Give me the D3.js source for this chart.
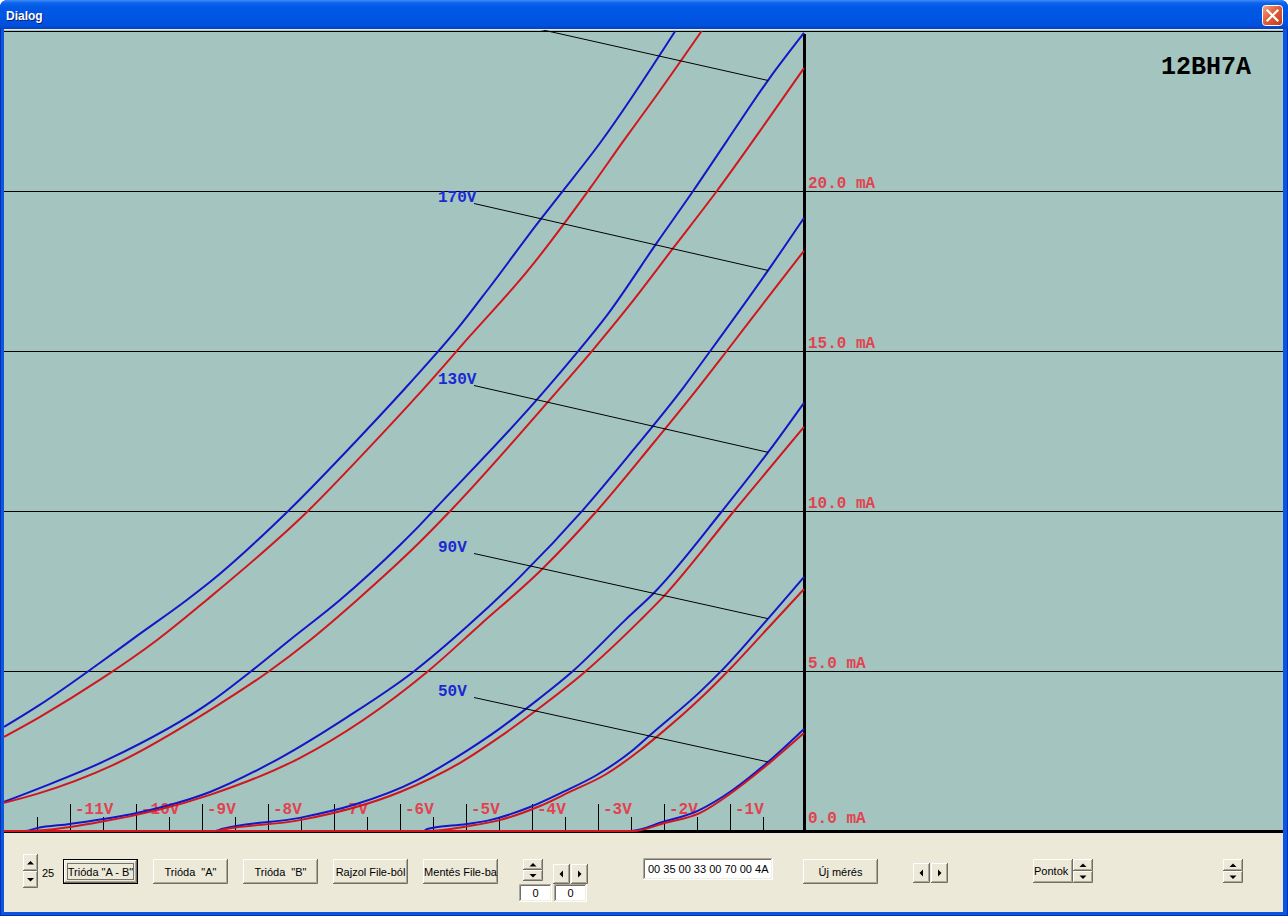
<!DOCTYPE html>
<html><head><meta charset="utf-8">
<script src="https://cdn.jsdelivr.net/npm/d3@7/dist/d3.min.js"></script>
<style>html,body{margin:0;padding:0;background:#ffffff;overflow:hidden}svg{display:block}text{white-space:pre}</style>
</head><body><svg id="c" width="1288" height="916"></svg>
<script>
// ---------------- data ----------------
const tubeName = "12BH7A";
const plateVoltages = ["50V", "90V", "130V", "170V", "210V", "250V"];
const gridTicksMajor = [-11, -10, -9, -8, -7, -6, -5, -4, -3, -2, -1];
const gridTicksMinor = [-11.5, -10.5, -9.5, -8.5, -7.5, -6.5, -5.5, -4.5, -3.5, -2.5, -1.5, -0.5];
const currentTicks = [0, 5, 10, 15, 20];
const currentGrid = [5, 10, 15, 20, 25];
// [grid voltage V, anode current mA]; "A" = blue trace, "B" = red trace
const triodeA_50V = [[-12.12,0],[-2.62,0],[-2.14,0.28],[-1.61,0.63],[-1.08,1.28],[-0.56,2.13],[0,3.19]];
const triodeB_50V = [[-12.12,0],[-2.59,0],[-2.11,0.25],[-1.58,0.56],[-1.08,1.22],[-0.56,2.06],[0,3.06]];
const triodeA_90V = [[-12.12,0],[-5.76,0],[-5.71,0.06],[-5.11,0.22],[-4.76,0.34],[-4.15,0.75],[-3.65,1.22],[-3.14,1.75],[-2.59,2.53],[-2.33,3.0],[-1.58,4.34],[-1.23,5.05],[-0.56,6.6],[0,7.94]];
const triodeB_90V = [[-12.12,0],[-5.70,0],[-5.06,0.16],[-4.61,0.34],[-4.00,0.78],[-3.55,1.22],[-3.02,1.75],[-2.48,2.53],[-2.21,2.98],[-1.50,4.28],[-1.15,5.0],[-0.52,6.4],[0,7.56]];
const triodeA_130V = [[-12.12,0],[-8.92,0],[-8.82,0.06],[-7.64,0.41],[-6.83,0.81],[-5.86,1.59],[-5.26,2.31],[-4.61,3.2],[-4.11,3.98],[-3.50,5.0],[-2.71,6.59],[-2.26,7.47],[-1.24,10.0],[-0.52,11.9],[0,13.38]];
const triodeB_130V = [[-12.12,0],[-8.92,0],[-8.76,0.06],[-7.64,0.34],[-6.12,1.22],[-5.21,2.13],[-4.61,2.94],[-4.05,3.78],[-3.32,4.97],[-2.48,6.59],[-2.14,7.3],[-1.06,10.0],[0,12.63]];
const triodeA_170V = [[-12.12,0],[-11.80,0],[-11.62,0.09],[-11.12,0.22],[-10.11,0.56],[-9.00,1.22],[-7.94,2.28],[-6.92,3.56],[-5.92,4.97],[-5.11,6.38],[-4.30,7.95],[-3.35,10.03],[-2.59,11.9],[-1.83,13.85],[-1.42,15.0],[-0.52,17.59],[0,19.16]];
const triodeB_170V = [[-12.12,0],[-11.80,0],[-10.67,0.28],[-9.00,1.13],[-7.64,2.28],[-5.71,4.97],[-4.91,6.44],[-3.95,8.22],[-3.14,10.0],[-2.33,12.0],[-1.58,13.91],[-1.17,15.0],[-0.47,16.88],[0,18.13]];
const triodeA_210V = [[-12.12,0.91],[-11.58,1.34],[-10.56,2.22],[-8.95,4.09],[-8.39,4.97],[-7.79,5.97],[-7.03,7.22],[-6.12,8.94],[-5.82,9.56],[-5.62,10.0],[-4.05,13.47],[-3.50,14.8],[-2.98,16.13],[-2.23,18.38],[-1.68,20.0],[-1.17,21.56],[-0.52,23.53],[0,24.94]];
const triodeB_210V = [[-12.12,0.88],[-11.62,1.16],[-10.47,2.06],[-8.92,3.88],[-8.12,4.97],[-7.48,5.97],[-6.77,7.22],[-5.82,9.03],[-5.36,10.0],[-3.82,13.55],[-3.20,15.03],[-2.64,16.44],[-1.98,18.22],[-1.32,20.0],[-0.56,22.19],[0,23.84]];
const triodeA_250V = [[-12.12,3.25],[-11.58,3.94],[-10.67,5.25],[-10.11,6.09],[-9.35,7.22],[-9.00,7.78],[-7.83,9.97],[-6.77,12.22],[-5.97,14.0],[-5.24,15.72],[-4.76,17.0],[-4.00,19.09],[-3.70,19.88],[-3.09,21.5],[-1.95,25.0]];
const triodeB_250V = [[-12.12,2.94],[-11.58,3.56],[-10.67,4.72],[-9.80,5.97],[-9.05,7.22],[-7.53,9.97],[-6.62,11.91],[-5.82,13.69],[-5.06,15.47],[-4.20,17.47],[-3.24,20.09],[-2.74,21.55],[-2.23,23.0],[-1.55,25.0]];
const leaderGridVoltage = -0.545;

// ---------------- layout ----------------
const families = [
  {name: "50V",  a: triodeA_50V,  b: triodeB_50V,  labelY: 696},
  {name: "90V",  a: triodeA_90V,  b: triodeB_90V,  labelY: 552},
  {name: "130V", a: triodeA_130V, b: triodeB_130V, labelY: 384},
  {name: "170V", a: triodeA_170V, b: triodeB_170V, labelY: 202},
  {name: "210V", a: triodeA_210V, b: triodeB_210V, labelY: 13},
  {name: "250V", a: triodeA_250V, b: triodeB_250V, labelY: null}
];
const P = {left: 4, right: 1283, top: 30, bottom: 831};
const C = {bg: "#a4c5bf", blue: "#1616c6", red: "#d0161e", lab: "#e0434f", face: "#ece9d8"};
const MONO = "'Liberation Mono','DejaVu Sans Mono',monospace";
const UI = "'Liberation Sans',Arial,sans-serif";

const svg = d3.select("#c");
const defs = svg.append("defs");
const tg = defs.append("linearGradient").attr("id", "tg").attr("x1", 0).attr("y1", 0).attr("x2", 0).attr("y2", 1);
[[0,"#3d8cf6"],[0.1,"#0e64ec"],[0.25,"#0059e6"],[0.6,"#0055e2"],[0.88,"#0050dc"],[1,"#0044c4"]]
  .forEach(s => tg.append("stop").attr("offset", s[0]).attr("stop-color", s[1]));
const cg = defs.append("linearGradient").attr("id", "cg").attr("x1", 0).attr("y1", 0).attr("x2", 1).attr("y2", 1);
[[0,"#f2a88c"],[0.45,"#e0603a"],[1,"#c2381a"]].forEach(s => cg.append("stop").attr("offset", s[0]).attr("stop-color", s[1]));
defs.append("clipPath").attr("id", "pc").append("rect")
  .attr("x", P.left).attr("y", P.top).attr("width", P.right - P.left).attr("height", P.bottom - P.top + 2);

// window frame
svg.append("path").attr("d", "M0,8 Q0,0 8,0 H1280 Q1288,0 1288,8 V916 H0 Z").attr("fill", "#0a56e2");
svg.append("path").attr("d", "M0,8 Q0,0 8,0 H1280 Q1288,0 1288,8 V29 H0 Z").attr("fill", "url(#tg)");
svg.append("rect").attr("x", 0).attr("y", 29).attr("width", 1).attr("height", 887).attr("fill", "#0831a8");
svg.append("rect").attr("x", 1287).attr("y", 29).attr("width", 1).attr("height", 887).attr("fill", "#0831a8");
svg.append("rect").attr("x", 0).attr("y", 915).attr("width", 1288).attr("height", 1).attr("fill", "#0831a8");
svg.append("text").attr("x", 7).attr("y", 21).attr("fill", "#0a1e78").attr("font-family", UI).attr("font-weight", "bold").attr("font-size", 12).text("Dialog");
svg.append("text").attr("x", 6).attr("y", 20).attr("fill", "#ffffff").attr("font-family", UI).attr("font-weight", "bold").attr("font-size", 12).text("Dialog");
// close button
svg.append("rect").attr("x", 1262.5).attr("y", 5.5).attr("width", 20).attr("height", 20).attr("rx", 3)
  .attr("fill", "url(#cg)").attr("stroke", "#ffffff").attr("stroke-width", 1);
svg.append("path").attr("d", "M1267.5,10.5 L1277.5,20.5 M1277.5,10.5 L1267.5,20.5")
  .attr("stroke", "#ffffff").attr("stroke-width", 2.2).attr("stroke-linecap", "square");

// client area
svg.append("rect").attr("x", 4).attr("y", 29).attr("width", 1279).attr("height", 883).attr("fill", C.face);
svg.append("rect").attr("x", P.left).attr("y", P.top).attr("width", P.right - P.left).attr("height", P.bottom - P.top).attr("fill", C.bg);

// ---------------- scales ----------------
const x = d3.scaleLinear().domain([-12.12, 0]).range([4, 804]);
const y = d3.scaleLinear().domain([0, 25]).range([831, 31]);
const tickShift = -8;

const plot = svg.append("g").attr("clip-path", "url(#pc)");

// horizontal grid lines
plot.selectAll("line.grid").data(currentGrid).join("line").attr("class", "grid")
  .attr("x1", P.left).attr("x2", P.right)
  .attr("y1", d => Math.round(y(d)) + 0.5).attr("y2", d => Math.round(y(d)) + 0.5)
  .attr("stroke", "#000").attr("stroke-width", 1);

// current labels
plot.selectAll("text.ma").data(currentTicks).join("text").attr("class", "ma")
  .attr("x", x(0) + 4)
  .attr("y", d => Math.min(y(d) - 3, y(0) - 8))
  .attr("fill", C.lab).attr("font-family", MONO).attr("font-weight", "bold").attr("font-size", 16)
  .text(d => d3.format(".1f")(d) + " mA");

// grid voltage tick labels & ticks
plot.selectAll("text.vg").data(gridTicksMajor).join("text").attr("class", "vg")
  .attr("x", d => x(d) + tickShift + 5).attr("y", 814)
  .attr("fill", C.lab).attr("font-family", MONO).attr("font-weight", "bold").attr("font-size", 16)
  .text(d => d + "V");
plot.selectAll("line.tmaj").data(gridTicksMajor).join("line").attr("class", "tmaj")
  .attr("x1", d => Math.round(x(d) + tickShift) + 0.5).attr("x2", d => Math.round(x(d) + tickShift) + 0.5)
  .attr("y1", 804).attr("y2", 831).attr("stroke", "#000");
plot.selectAll("line.tmin").data(gridTicksMinor).join("line").attr("class", "tmin")
  .attr("x1", d => Math.round(x(d) + tickShift) + 0.5).attr("x2", d => Math.round(x(d) + tickShift) + 0.5)
  .attr("y1", 817).attr("y2", 831).attr("stroke", "#000");

// axes
plot.append("line").attr("x1", P.left).attr("x2", P.right).attr("y1", 831.5).attr("y2", 831.5)
  .attr("stroke", "#000").attr("stroke-width", 3);
plot.append("line").attr("x1", x(0) + 0.5).attr("x2", x(0) + 0.5).attr("y1", 34).attr("y2", 832)
  .attr("stroke", "#000").attr("stroke-width", 3);

// curves
const line = d3.line().x(d => x(d[0])).y(d => y(d[1])).curve(d3.curveMonotoneX);
families.forEach(f => {
  plot.append("path").attr("d", line(f.a)).attr("fill", "none").attr("stroke", C.blue).attr("stroke-width", 2);
  plot.append("path").attr("d", line(f.b)).attr("fill", "none").attr("stroke", C.red).attr("stroke-width", 2);
});

// family labels with leader lines
families.filter(f => f.labelY !== null).forEach(f => {
  const interp = d3.scaleLinear().domain(f.a.map(d => d[0])).range(f.a.map(d => d[1]));
  plot.append("line").attr("x1", 474).attr("y1", f.labelY + 1.5).attr("x2", 768).attr("y2", y(interp(leaderGridVoltage)))
    .attr("stroke", "#000").attr("stroke-width", 1);
  plot.append("text").attr("x", 438).attr("y", f.labelY).attr("fill", "#1a2ad2")
    .attr("font-family", MONO).attr("font-weight", "bold").attr("font-size", 16).text(f.name);
});

// tube name
svg.append("text").attr("x", 1161).attr("y", 74).attr("fill", "#000").attr("font-family", MONO)
  .attr("font-weight", "bold").attr("font-size", 25).text(tubeName);

// ---------------- bottom controls ----------------
const ui = svg.append("g");
function raised(x0, y0, w, h) {
  ui.append("rect").attr("x", x0).attr("y", y0).attr("width", w).attr("height", h).attr("fill", C.face);
  ui.append("path").attr("d", `M${x0+0.5},${y0+h-1} V${y0+0.5} H${x0+w-1}`).attr("fill", "none").attr("stroke", "#ffffff");
  ui.append("path").attr("d", `M${x0},${y0+h-0.5} H${x0+w-0.5} V${y0}`).attr("fill", "none").attr("stroke", "#716f64");
  ui.append("path").attr("d", `M${x0+1},${y0+h-1.5} H${x0+w-1.5} V${y0+1}`).attr("fill", "none").attr("stroke", "#aca899");
}
function sunken(x0, y0, w, h) {
  ui.append("rect").attr("x", x0).attr("y", y0).attr("width", w).attr("height", h).attr("fill", "#ffffff");
  ui.append("path").attr("d", `M${x0+0.5},${y0+h-1} V${y0+0.5} H${x0+w-1}`).attr("fill", "none").attr("stroke", "#aca899");
  ui.append("path").attr("d", `M${x0+1.5},${y0+h-2} V${y0+1.5} H${x0+w-2}`).attr("fill", "none").attr("stroke", "#716f64");
  ui.append("path").attr("d", `M${x0},${y0+h-0.5} H${x0+w-0.5} V${y0}`).attr("fill", "none").attr("stroke", "#ffffff");
  ui.append("path").attr("d", `M${x0+1},${y0+h-1.5} H${x0+w-1.5} V${y0+1}`).attr("fill", "none").attr("stroke", "#f1efe2");
}
function label(tx, ty, s, anchor) {
  ui.append("text").attr("x", tx).attr("y", ty).attr("text-anchor", anchor || "middle")
    .attr("xml:space", "preserve")
    .attr("font-family", UI).attr("font-size", 11).attr("fill", "#000").text(s);
}
function button(x0, y0, w, h, s, focused) {
  if (focused) {
    ui.append("rect").attr("x", x0 + 0.5).attr("y", y0 + 0.5).attr("width", w - 1).attr("height", h - 1).attr("fill", "none").attr("stroke", "#000");
    raised(x0 + 1, y0 + 1, w - 2, h - 2);
    ui.append("rect").attr("x", x0 + 4.5).attr("y", y0 + 4.5).attr("width", w - 9).attr("height", h - 9)
      .attr("fill", "none").attr("stroke", "#000").attr("stroke-dasharray", "1,1");
  } else raised(x0, y0, w, h);
  label(x0 + w / 2, y0 + h / 2 + 4, s);
}
function tri(cx, cy, dir) {
  const p = {up: `M${cx-3.5},${cy+2} L${cx+3.5},${cy+2} L${cx},${cy-1.5} Z`,
             down: `M${cx-3.5},${cy-1.5} L${cx+3.5},${cy-1.5} L${cx},${cy+2} Z`,
             left: `M${cx+1.5},${cy-3.5} L${cx+1.5},${cy+3.5} L${cx-2},${cy} Z`,
             right: `M${cx-1.5},${cy-3.5} L${cx-1.5},${cy+3.5} L${cx+2},${cy} Z`}[dir];
  ui.append("path").attr("d", p).attr("fill", "#000");
}
function spinV(x0, y0, w, h) {
  const h2 = Math.round(h / 2);
  raised(x0, y0, w, h2); tri(x0 + w / 2, y0 + h2 / 2, "up");
  raised(x0, y0 + h2, w, h - h2); tri(x0 + w / 2, y0 + h2 + (h - h2) / 2, "down");
}
function spinH(x0, y0, w, h) {
  raised(x0, y0, w, h); tri(x0 + w / 2, y0 + h / 2, "left");
  raised(x0 + w + 1, y0, w, h); tri(x0 + w + 1 + w / 2, y0 + h / 2, "right");
}

spinV(23, 854, 15, 34);
label(42, 877, "25", "start");
button(63, 859, 75, 25, "Trióda \"A - B\"", true);
button(153, 859, 75, 25, "Trióda  \"A\"");
button(243, 859, 75, 25, "Trióda  \"B\"");
button(333, 859, 75, 25, "Rajzol File-ból");
button(423, 859, 75, 25, "Mentés File-ba");
spinV(523, 859, 20, 22);
spinH(553, 864, 17, 20);
sunken(519, 884, 33, 18); label(535.5, 897, "0");
sunken(554, 884, 33, 18); label(570.5, 897, "0");
sunken(643, 858, 130, 22); label(648, 873, "00 35 00 33 00 70 00 4A", "start");
button(803, 859, 75, 25, "Új mérés");
spinH(913, 863, 17, 20);
raised(1033, 859, 40, 24); label(1034, 875, "Pontok", "start");
spinV(1073, 859, 20, 24);
spinV(1223, 859, 20, 24);
</script>
</body></html>
